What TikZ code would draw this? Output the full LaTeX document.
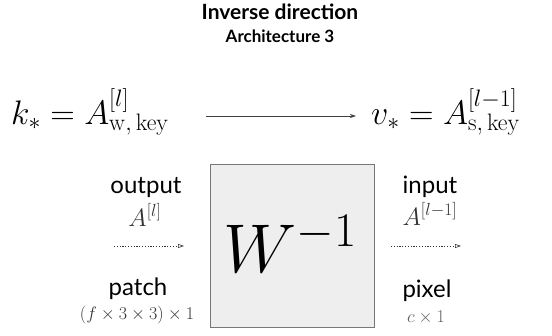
\RequirePackage{fix-cm}
\documentclass[tikz,border=0pt]{standalone}
\usepackage[no-math]{fontspec}
\setmainfont{Lato}
\usetikzlibrary{arrows.meta}
\definecolor{boxfill}{HTML}{EEEEEE}
\definecolor{boxline}{HTML}{777777}
\definecolor{dimtext}{HTML}{333333}
\definecolor{lighttext}{HTML}{606060}
\tikzset{
  lbl/.style={inner sep=0pt, anchor=base},
  word/.style={lbl, font=\fontsize{24}{26}\selectfont},
  dotarrow/.style={draw=dimtext, line width=0.6pt, dash pattern=on 1.2pt off 1.6pt,
    -{Triangle[open, length=6pt, width=4pt, line width=0.6pt]}},
  mainarrow/.style={draw=black!75, line width=0.7pt, -{Stealth[length=6pt, width=4pt]}},
}
\begin{document}
\begin{tikzpicture}[x=1pt, y=-1pt]
\useasboundingbox (0,0) rectangle (552,335);
% titles
\node[lbl] (title) at (280,19) {\fontsize{21}{24}\selectfont\bfseries Inverse direction};
\node[lbl] (sub) at (280,42) {\fontsize{17}{19}\selectfont\bfseries Architecture 3};
% main equations
\node[lbl, anchor=base west] (keq) at (11,124) {\fontsize{34}{38}\selectfont $k_* = A^{[l]}_{\mathrm{w,\,key}}$};
\node[lbl, anchor=base west] (veq) at (371,124) {\fontsize{34}{38}\selectfont $v_* = A^{[l-1]}_{\mathrm{s,\,key}}$};
\coordinate (a1) at (206,116);
\coordinate (a2) at (356,116);
\draw[mainarrow] (a1) -- (a2);
% box
\node[draw=boxline, fill=boxfill, line width=0.9pt, minimum width=164pt, minimum height=163pt, inner sep=0pt] (W) at (292,245.5) {};
\node[lbl] (Wt) at (290,272) {\fontsize{69}{76}\selectfont $W^{-1}$};
% left labels
\node[word] (out) at (146,193) {output};
\node[lbl] (Al) at (145,226) {\fontsize{25}{27}\selectfont\color{dimtext}$A^{[l]}$};
\coordinate (l1) at (114,246);
\coordinate (l2) at (184,246);
\draw[dotarrow] (l1) -- (l2);
\node[word] (patch) at (138,295) {patch};
\node[lbl] (pdim) at (137,319) {\fontsize{18}{20}\selectfont\color{dimtext}$(f\times3\times3)\times1$};
% right labels
\node[word] (inp) at (430,193) {input};
\node[lbl] (Alm) at (430,225) {\fontsize{25}{27}\selectfont\color{dimtext}$A^{[l-1]}$};
\coordinate (r1) at (391,246);
\coordinate (r2) at (461,246);
\draw[dotarrow] (r1) -- (r2);
\node[word] (pix) at (427,297) {pixel};
\node[lbl] (cdim) at (426,322) {\fontsize{18}{20}\selectfont\color{lighttext}$c\times1$};
\end{tikzpicture}
\end{document}
